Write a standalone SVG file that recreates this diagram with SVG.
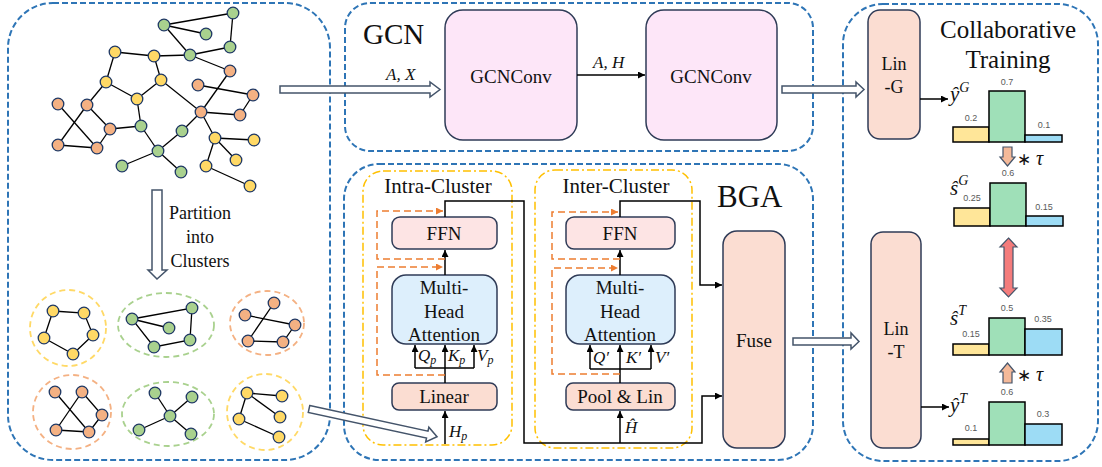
<svg xmlns="http://www.w3.org/2000/svg" width="1102" height="467" viewBox="0 0 1102 467">
<style>
.panel{fill:none;stroke:#2E75B6;stroke-width:2;stroke-dasharray:6,3}
.dd{fill:none;stroke:#FFC000;stroke-width:1.5;stroke-dasharray:8,3,2,3}
.e{stroke:#000;stroke-width:1.3;fill:none}
.ny{fill:#FFD966;stroke:#1F3864;stroke-width:1.3}
.ng{fill:#A9D18E;stroke:#1F3864;stroke-width:1.3}
.no{fill:#F4B183;stroke:#1F3864;stroke-width:1.3}
.cy{fill:none;stroke:#FFD966;stroke-width:1.8;stroke-dasharray:6,4}
.cg{fill:none;stroke:#A9D18E;stroke-width:1.8;stroke-dasharray:6,4}
.co{fill:none;stroke:#F4B183;stroke-width:1.8;stroke-dasharray:6,4}
.box{stroke:#2F3B57;stroke-width:1.5}
.pink{fill:#FDE6F8}
.peach{fill:#FBDDD2}
.lpink{fill:#FDE4E4}
.lblue{fill:#DDEFFC}
.t{font-family:"Liberation Serif",serif;fill:#111}
.m{font-family:"Liberation Serif",serif;font-style:italic;fill:#111}
.v{font-family:"Liberation Sans",sans-serif;font-size:9px;fill:#595959;text-anchor:middle}
.ln{stroke:#000;stroke-width:1.5;fill:none}
.sk{stroke:#ED7D31;stroke-width:1.5;fill:none;stroke-dasharray:7,4}
.hol{fill:#fff;stroke:#44546A;stroke-width:1.5}
.by{fill:#FFE699;stroke:#000;stroke-width:1.5}
.bg{fill:#9FE0B8;stroke:#000;stroke-width:1.5}
.bb{fill:#9DDCF5;stroke:#000;stroke-width:1.5}
</style>
<defs>
<marker id="ah" viewBox="0 0 10 10" refX="10" refY="5" markerWidth="7" markerHeight="7" markerUnits="userSpaceOnUse" orient="auto"><path d="M0,0 L10,5 L0,10 Z" fill="#000"/></marker>
<marker id="ao" viewBox="0 0 10 10" refX="10" refY="5" markerWidth="7" markerHeight="7" markerUnits="userSpaceOnUse" orient="auto"><path d="M0,0 L10,5 L0,10 Z" fill="#ED7D31"/></marker>
</defs>
<rect width="1102" height="467" fill="#fff"/>

<!-- panels -->
<g id="panel-left"><rect class="panel" x="8" y="3" width="322" height="457" rx="45"/></g>
<g id="panel-gcn"><rect class="panel" x="345" y="3" width="468" height="148" rx="25"/>
<text class="t" x="363" y="44" font-size="29">GCN</text></g>
<g id="panel-bga"><rect class="panel" x="344" y="164" width="469" height="296" rx="35"/>
<text class="t" x="717" y="207" font-size="31">BGA</text></g>
<g id="panel-right"><rect class="panel" x="843" y="4" width="255" height="457" rx="40"/>
<text class="t" x="1008" y="38" font-size="25" text-anchor="middle">Collaborative</text>
<text class="t" x="1008" y="68" font-size="25" text-anchor="middle">Training</text></g>

<!-- original graph -->
<g id="graph">
<g class="e">
<line x1="164" y1="25" x2="233" y2="13"/><line x1="233" y1="13" x2="230" y2="47"/><line x1="164" y1="25" x2="206" y2="34"/>
<line x1="164" y1="25" x2="190" y2="55"/><line x1="190" y1="55" x2="230" y2="47"/><line x1="190" y1="55" x2="154" y2="56"/>
<line x1="115" y1="52" x2="154" y2="56"/><line x1="115" y1="52" x2="106" y2="82"/><line x1="154" y1="56" x2="161" y2="80"/>
<line x1="106" y1="82" x2="137" y2="99"/><line x1="161" y1="80" x2="137" y2="99"/><line x1="106" y1="82" x2="87" y2="105"/>
<line x1="161" y1="80" x2="201" y2="112"/><line x1="190" y1="55" x2="230" y2="71"/><line x1="230" y1="71" x2="201" y2="112"/>
<line x1="198" y1="85" x2="253" y2="95"/><line x1="253" y1="95" x2="240" y2="115"/><line x1="201" y1="112" x2="240" y2="115"/>
<line x1="201" y1="112" x2="182" y2="131"/><line x1="201" y1="112" x2="215" y2="138"/><line x1="182" y1="131" x2="158" y2="151"/>
<line x1="137" y1="99" x2="141" y2="126"/><line x1="141" y1="126" x2="158" y2="151"/><line x1="110" y1="129" x2="141" y2="126"/>
<line x1="87" y1="105" x2="110" y2="129"/><line x1="87" y1="105" x2="58" y2="145"/><line x1="58" y1="104" x2="97" y2="148"/>
<line x1="58" y1="145" x2="97" y2="148"/><line x1="110" y1="129" x2="97" y2="148"/><line x1="158" y1="151" x2="122" y2="166"/>
<line x1="158" y1="151" x2="181" y2="172"/><line x1="215" y1="138" x2="254" y2="140"/><line x1="215" y1="138" x2="236" y2="160"/>
<line x1="215" y1="138" x2="206" y2="166"/><line x1="206" y1="166" x2="250" y2="186"/>
</g>
<g>
<circle class="ng" cx="233" cy="13" r="5.8"/><circle class="ng" cx="164" cy="25" r="5.8"/><circle class="ng" cx="206" cy="34" r="5.8"/>
<circle class="ng" cx="230" cy="47" r="5.8"/><circle class="ng" cx="190" cy="55" r="5.8"/><circle class="ng" cx="141" cy="126" r="5.8"/>
<circle class="ng" cx="182" cy="131" r="5.8"/><circle class="ng" cx="158" cy="151" r="5.8"/><circle class="ng" cx="122" cy="166" r="5.8"/>
<circle class="ng" cx="181" cy="172" r="5.8"/>
<circle class="ny" cx="115" cy="52" r="5.8"/><circle class="ny" cx="154" cy="56" r="5.8"/><circle class="ny" cx="106" cy="82" r="5.8"/>
<circle class="ny" cx="161" cy="80" r="5.8"/><circle class="ny" cx="137" cy="99" r="5.8"/><circle class="ny" cx="215" cy="138" r="5.8"/>
<circle class="ny" cx="254" cy="140" r="5.8"/><circle class="ny" cx="236" cy="160" r="5.8"/><circle class="ny" cx="206" cy="166" r="5.8"/>
<circle class="ny" cx="250" cy="186" r="5.8"/>
<circle class="no" cx="230" cy="71" r="5.8"/><circle class="no" cx="198" cy="85" r="5.8"/><circle class="no" cx="253" cy="95" r="5.8"/>
<circle class="no" cx="58" cy="104" r="5.8"/><circle class="no" cx="87" cy="105" r="5.8"/><circle class="no" cx="201" cy="112" r="5.8"/>
<circle class="no" cx="240" cy="115" r="5.8"/><circle class="no" cx="110" cy="129" r="5.8"/><circle class="no" cx="58" cy="145" r="5.8"/>
<circle class="no" cx="97" cy="148" r="5.8"/>
</g>
</g>

<!-- partition label -->
<g id="partition-label">
<text class="t" font-size="18" text-anchor="middle"><tspan x="200" y="219">Partition</tspan><tspan x="200" y="243">into</tspan><tspan x="200" y="267">Clusters</tspan></text>
</g>

<!-- clusters -->
<g id="cluster-1">
<ellipse class="cy" cx="68" cy="328" rx="38" ry="38"/>
<g class="e"><polygon points="53,311 84,313 93,335 73,354 44,338"/></g>
<circle class="ny" cx="53" cy="311" r="5.8"/><circle class="ny" cx="84" cy="313" r="5.8"/><circle class="ny" cx="93" cy="335" r="5.8"/><circle class="ny" cx="73" cy="354" r="5.8"/><circle class="ny" cx="44" cy="338" r="5.8"/>
</g>
<g id="cluster-2">
<ellipse class="cg" cx="166" cy="325" rx="48" ry="32"/>
<g class="e"><polygon points="132,319 192,308 190,340 154,347"/><line x1="132" y1="319" x2="169" y2="328"/></g>
<circle class="ng" cx="132" cy="319" r="5.8"/><circle class="ng" cx="192" cy="308" r="5.8"/><circle class="ng" cx="169" cy="328" r="5.8"/><circle class="ng" cx="190" cy="340" r="5.8"/><circle class="ng" cx="154" cy="347" r="5.8"/>
</g>
<g id="cluster-3">
<ellipse class="co" cx="267" cy="323" rx="37" ry="32"/>
<g class="e"><line x1="274" y1="303" x2="248" y2="341"/><line x1="245" y1="315" x2="295" y2="325"/><polyline points="295,325 283,342 248,341"/></g>
<circle class="no" cx="274" cy="303" r="5.8"/><circle class="no" cx="245" cy="315" r="5.8"/><circle class="no" cx="295" cy="325" r="5.8"/><circle class="no" cx="248" cy="341" r="5.8"/><circle class="no" cx="283" cy="342" r="5.8"/>
</g>
<g id="cluster-4">
<ellipse class="co" cx="72" cy="412" rx="39" ry="37"/>
<g class="e"><line x1="55" y1="392" x2="89" y2="432"/><line x1="82" y1="392" x2="56" y2="430"/><polyline points="82,392 102,415 89,432 56,430"/></g>
<circle class="no" cx="55" cy="392" r="5.8"/><circle class="no" cx="82" cy="392" r="5.8"/><circle class="no" cx="102" cy="415" r="5.8"/><circle class="no" cx="56" cy="430" r="5.8"/><circle class="no" cx="89" cy="432" r="5.8"/>
</g>
<g id="cluster-5">
<ellipse class="cg" cx="168" cy="414" rx="46" ry="32"/>
<g class="e"><line x1="170" y1="416" x2="155" y2="393"/><line x1="170" y1="416" x2="192" y2="397"/><line x1="170" y1="416" x2="139" y2="430"/><line x1="170" y1="416" x2="191" y2="434"/></g>
<circle class="ng" cx="155" cy="393" r="5.8"/><circle class="ng" cx="192" cy="397" r="5.8"/><circle class="ng" cx="170" cy="416" r="5.8"/><circle class="ng" cx="139" cy="430" r="5.8"/><circle class="ng" cx="191" cy="434" r="5.8"/>
</g>
<g id="cluster-6">
<ellipse class="cy" cx="265" cy="412" rx="38" ry="38"/>
<g class="e"><line x1="247" y1="393" x2="282" y2="396"/><line x1="247" y1="393" x2="280" y2="417"/><line x1="247" y1="393" x2="239" y2="419"/><line x1="239" y1="419" x2="279" y2="437"/></g>
<circle class="ny" cx="247" cy="393" r="5.8"/><circle class="ny" cx="282" cy="396" r="5.8"/><circle class="ny" cx="280" cy="417" r="5.8"/><circle class="ny" cx="239" cy="419" r="5.8"/><circle class="ny" cx="279" cy="437" r="5.8"/>
</g>

<!-- GCN nodes -->
<g id="gcnconv-1"><rect class="box pink" x="445" y="10" width="132" height="130" rx="18"/>
<text class="t" x="511" y="83" font-size="19" text-anchor="middle">GCNConv</text></g>
<g id="gcnconv-2"><rect class="box pink" x="646" y="10" width="131" height="130" rx="18"/>
<text class="t" x="711" y="83" font-size="19" text-anchor="middle">GCNConv</text></g>

<!-- BGA -->
<g id="intra-cluster"><rect class="dd" x="363" y="171" width="149" height="274" rx="20"/>
<text class="t" x="438" y="193" font-size="21" text-anchor="middle">Intra-Cluster</text></g>
<g id="inter-cluster"><rect class="dd" x="535" y="170" width="157" height="278" rx="20"/>
<text class="t" x="616" y="193" font-size="21" text-anchor="middle">Inter-Cluster</text></g>
<g id="ffn-1"><rect class="box lpink" x="392" y="217" width="105" height="32" rx="8"/>
<text class="t" x="444" y="240" font-size="19" text-anchor="middle">FFN</text></g>
<g id="mha-1"><rect class="box lblue" x="392" y="275" width="105" height="69" rx="14"/>
<text class="t" font-size="19" text-anchor="middle"><tspan x="444" y="294">Multi-</tspan><tspan x="444" y="318">Head</tspan><tspan x="444" y="341">Attention</tspan></text></g>
<g id="linear"><rect class="box peach" x="392" y="383" width="105" height="27" rx="7"/>
<text class="t" x="444" y="403" font-size="19" text-anchor="middle">Linear</text></g>
<g id="ffn-2"><rect class="box lpink" x="566" y="217" width="109" height="32" rx="8"/>
<text class="t" x="620" y="240" font-size="19" text-anchor="middle">FFN</text></g>
<g id="mha-2"><rect class="box lblue" x="566" y="275" width="109" height="69" rx="14"/>
<text class="t" font-size="19" text-anchor="middle"><tspan x="620" y="294">Multi-</tspan><tspan x="620" y="318">Head</tspan><tspan x="620" y="341">Attention</tspan></text></g>
<g id="pool-lin"><rect class="box peach" x="566" y="383" width="109" height="27" rx="7"/>
<text class="t" x="620" y="403" font-size="19" text-anchor="middle">Pool &amp; Lin</text></g>
<g id="fuse"><rect class="box peach" x="723" y="231" width="62" height="217" rx="14"/>
<text class="t" x="754" y="347" font-size="19" text-anchor="middle">Fuse</text></g>

<!-- right -->
<g id="lin-g"><rect class="box peach" x="868" y="10" width="52" height="129" rx="12"/>
<text class="t" font-size="18" text-anchor="middle"><tspan x="894" y="70">Lin</tspan><tspan x="894" y="93">-G</tspan></text></g>
<g id="lin-t"><rect class="box peach" x="871" y="232" width="50" height="216" rx="12"/>
<text class="t" font-size="18" text-anchor="middle"><tspan x="896" y="335">Lin</tspan><tspan x="896" y="358">-T</tspan></text></g>

<g id="chart-yG">
<rect class="by" x="953" y="127" width="36" height="15"/><rect class="bg" x="989" y="91" width="36" height="51"/><rect class="bb" x="1025" y="135" width="37" height="7"/>
<text class="v" x="971" y="121">0.2</text><text class="v" x="1007" y="85">0.7</text><text class="v" x="1044" y="128">0.1</text>
<text class="m" x="950" y="101" font-size="21">ŷ<tspan font-size="14" dy="-9">G</tspan></text>
</g>
<g id="chart-sG">
<rect class="by" x="954" y="208" width="36" height="18"/><rect class="bg" x="990" y="183" width="36" height="43"/><rect class="bb" x="1026" y="216" width="37" height="10"/>
<text class="v" x="972" y="201">0.25</text><text class="v" x="1008" y="176">0.6</text><text class="v" x="1044" y="210">0.15</text>
<text class="m" x="950" y="195" font-size="21">ŝ<tspan font-size="14" dy="-10">G</tspan></text>
</g>
<g id="chart-sT">
<rect class="by" x="953" y="344" width="36" height="11"/><rect class="bg" x="989" y="318" width="36" height="37"/><rect class="bb" x="1025" y="329" width="37" height="26"/>
<text class="v" x="971" y="337">0.15</text><text class="v" x="1007" y="311">0.5</text><text class="v" x="1043" y="322">0.35</text>
<text class="m" x="950" y="325" font-size="21">ŝ<tspan font-size="14" dy="-10">T</tspan></text>
</g>
<g id="chart-yT">
<rect class="by" x="953" y="439" width="36" height="6"/><rect class="bg" x="989" y="402" width="36" height="43"/><rect class="bb" x="1025" y="424" width="37" height="21"/>
<text class="v" x="971" y="431">0.1</text><text class="v" x="1007" y="395">0.6</text><text class="v" x="1043" y="417">0.3</text>
<text class="m" x="950" y="412" font-size="21">ŷ<tspan font-size="14" dy="-9">T</tspan></text>
</g>

<!-- connectors -->
<g id="connectors">
<!-- hollow arrows -->
<path class="hol" d="M280,86 H430 V82 L440,89.5 L430,97 V93 H280 Z"/>
<path class="hol" d="M782,86 H856 V82 L864,89.5 L856,97 V93 H782 Z"/>
<path class="hol" d="M793,338 H851 V333 L859,341.5 L851,349 V345 H793 Z"/>
<path class="hol" d="M0,-3.5 H121 V-7.5 L131,0 L121,7.5 V3.5 H0 Z" transform="translate(309,409) rotate(12.2)"/>
<path class="hol" d="M152,190 H162 V270 H167 L157,279 L148,270 H152 Z"/>
<!-- GCN -->
<line class="ln" x1="577" y1="75" x2="645" y2="75" marker-end="url(#ah)"/>
<text class="m" x="386" y="80" font-size="17">A, X</text>
<text class="m" x="593" y="68" font-size="17">A, H</text>
<!-- intra -->
<line class="ln" x1="445" y1="444" x2="445" y2="411" marker-end="url(#ah)"/>
<line class="ln" x1="445" y1="383" x2="445" y2="368"/>
<line class="ln" x1="415" y1="368" x2="474" y2="368"/>
<line class="ln" x1="415" y1="368" x2="415" y2="345" marker-end="url(#ah)"/>
<line class="ln" x1="445" y1="368" x2="445" y2="345" marker-end="url(#ah)"/>
<line class="ln" x1="474" y1="368" x2="474" y2="345" marker-end="url(#ah)"/>
<line class="ln" x1="445" y1="275" x2="445" y2="250" marker-end="url(#ah)"/>
<polyline class="ln" points="445,217 445,201 524,201 524,443 702,443 702,396 722,396" marker-end="url(#ah)"/>
<path class="sk" d="M445,375 H377 V267 H443" marker-end="url(#ao)"/>
<path class="sk" d="M445,259 H377 V211 H443" marker-end="url(#ao)"/>
<text class="m" x="449" y="437" font-size="17">H<tspan font-size="12" dy="3">p</tspan></text>
<text class="m" x="418" y="361" font-size="17">Q<tspan font-size="12" dy="3">p</tspan></text>
<text class="m" x="448" y="361" font-size="17">K<tspan font-size="12" dy="3">p</tspan></text>
<text class="m" x="477" y="361" font-size="17">V<tspan font-size="12" dy="3">p</tspan></text>
<!-- inter -->
<line class="ln" x1="620" y1="443" x2="620" y2="411" marker-end="url(#ah)"/>
<line class="ln" x1="620" y1="383" x2="620" y2="369"/>
<line class="ln" x1="590" y1="369" x2="651" y2="369"/>
<line class="ln" x1="590" y1="369" x2="590" y2="345" marker-end="url(#ah)"/>
<line class="ln" x1="620" y1="369" x2="620" y2="345" marker-end="url(#ah)"/>
<line class="ln" x1="651" y1="369" x2="651" y2="345" marker-end="url(#ah)"/>
<line class="ln" x1="620" y1="275" x2="620" y2="250" marker-end="url(#ah)"/>
<polyline class="ln" points="620,217 620,201 700,201 700,285 722,285" marker-end="url(#ah)"/>
<path class="sk" d="M620,374 H552 V268 H618" marker-end="url(#ao)"/>
<path class="sk" d="M620,259 H552 V212 H618" marker-end="url(#ao)"/>
<text class="m" x="625" y="433" font-size="17">Ĥ</text>
<text class="m" x="593" y="363" font-size="17">Q′</text>
<text class="m" x="626" y="363" font-size="17">K′</text>
<text class="m" x="655" y="363" font-size="17">V′</text>
<!-- right -->
<line class="ln" x1="920" y1="99" x2="948" y2="99" marker-end="url(#ah)"/>
<line class="ln" x1="921" y1="407" x2="949" y2="407" marker-end="url(#ah)"/>
<path d="M1003,147 H1012 V157 H1015 L1007.5,166 L1000,157 H1003 Z" fill="#F4B999" stroke="#44546A" stroke-width="1.2"/>
<text class="m" x="1017" y="165" font-size="20"><tspan font-style="normal" font-size="17">∗</tspan> τ</text>
<path d="M1003,383 H1012 V372 H1015 L1007.5,363 L1000,372 H1003 Z" fill="#F4B999" stroke="#44546A" stroke-width="1.2"/>
<text class="m" x="1017" y="381" font-size="20"><tspan font-style="normal" font-size="17">∗</tspan> τ</text>
<path d="M1008.5,238 L1017,247 H1013 V288 H1017 L1008.5,297 L1000,288 H1004 V247 H1000 Z" fill="#F47C7C" stroke="#44546A" stroke-width="1.2"/>
</g>
</svg>
